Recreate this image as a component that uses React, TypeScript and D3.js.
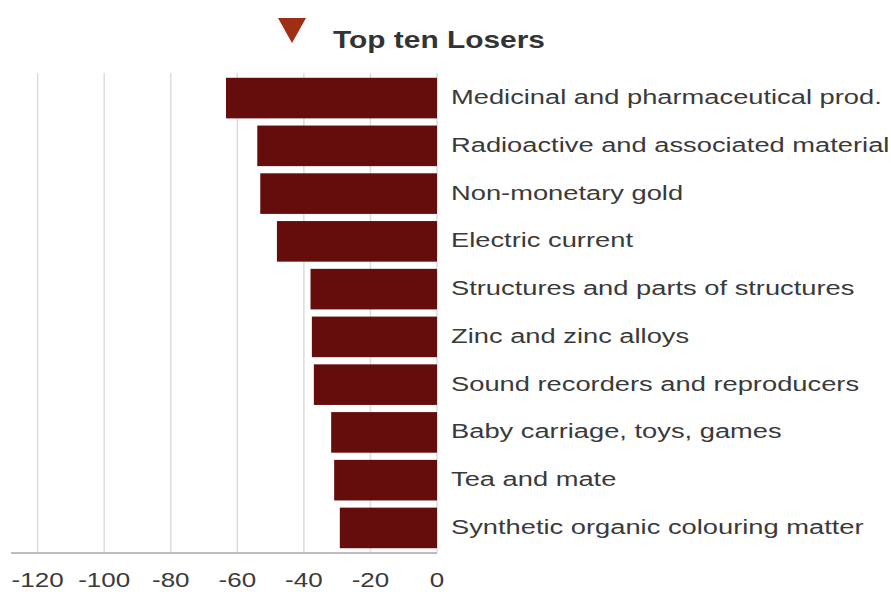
import React from "react";
import * as d3 from "d3";

const categories = [
  "Medicinal and pharmaceutical prod.",
  "Radioactive and associated material",
  "Non-monetary gold",
  "Electric current",
  "Structures and parts of structures",
  "Zinc and zinc alloys",
  "Sound recorders and reproducers",
  "Baby carriage, toys, games",
  "Tea and mate",
  "Synthetic organic colouring matter",
];
const values = [-63.4, -54.0, -53.1, -48.1, -38.0, -37.6, -37.0, -31.8, -30.9, -29.2];
const tickValues = [-120, -100, -80, -60, -40, -20, 0];
const title = "Top ten Losers";

const W = 891;
const H = 592;
const FONT = "'Liberation Sans', Arial, sans-serif";
const SX = 1.3; // horizontal stretch of the reference text

export default function App() {
  const x = d3.scaleLinear().domain([-128, 0]).range([11, 437]);
  const y = d3
    .scaleBand<string>()
    .domain(categories)
    .range([73, 553])
    .paddingInner(0.15)
    .paddingOuter(0.1);

  const textColor = "#3a3a3a";
  const barColor = "#650c0c";
  const triPath = d3.line()([
    [278, 18],
    [306, 18],
    [292, 43],
  ]) + "Z";

  return (
    <svg
      width={W}
      height={H}
      style={{ position: "absolute", left: 0, top: 0, background: "#fff" }}
    >
      {/* gridlines */}
      {tickValues.map((t) => (
        <line
          key={"g" + t}
          x1={x(t)}
          x2={x(t)}
          y1={73}
          y2={553}
          stroke="#dcdcdc"
          strokeWidth={1.5}
        />
      ))}
      {/* bars */}
      {categories.map((c, i) => (
        <rect
          key={c}
          x={x(values[i])}
          y={y(c)}
          width={x(0) - x(values[i])}
          height={y.bandwidth()}
          fill={barColor}
        />
      ))}
      {/* axis line */}
      <line x1={11} x2={x(0)} y1={553} y2={553} stroke="#bdbdbd" strokeWidth={2} />
      {/* tick labels */}
      {tickValues.map((t) => (
        <text
          key={"t" + t}
          transform={`translate(${x(t)},587) scale(${SX},1)`}
          textAnchor="middle"
          fontFamily={FONT}
          fontSize={20}
          fill={textColor}
        >
          {t}
        </text>
      ))}
      {/* category labels */}
      {categories.map((c) => (
        <text
          key={"l" + c}
          transform={`translate(451,${(y(c) as number) + y.bandwidth() / 2 + 6}) scale(${SX},1)`}
          fontFamily={FONT}
          fontSize={21}
          fill={textColor}
        >
          {c}
        </text>
      ))}
      {/* title */}
      <path d={triPath} fill="#9e2e16" />
      <text
        transform={`translate(333,48) scale(${SX},1)`}
        fontFamily={FONT}
        fontSize={23}
        fontWeight="bold"
        fill="#333"
      >
        {title}
      </text>
    </svg>
  );
}
